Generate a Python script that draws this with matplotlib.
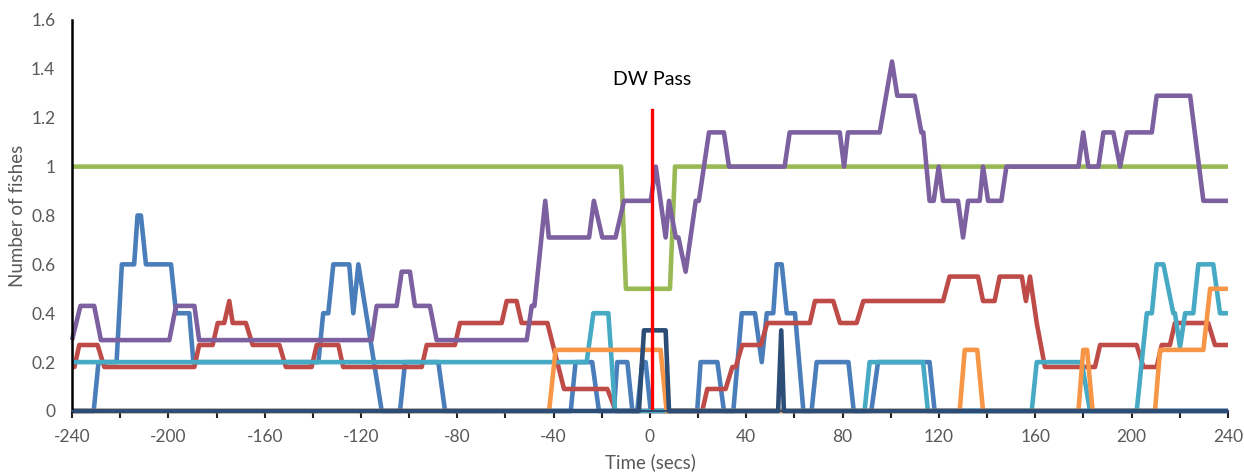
from matplotlib import pyplot as plt
from matplotlib.ticker import MultipleLocator, FuncFormatter

# (time in secs, number of fishes) break points
blue = [(-240, 0), (-231, 0), (-229, 0.2), (-221.5, 0.2), (-219.3, 0.6), (-214.2, 0.6),
        (-212.8, 0.8), (-211.4, 0.8), (-209.3, 0.6), (-198.9, 0.6), (-196.8, 0.4),
        (-191.3, 0.4), (-189.6, 0.2), (-137.7, 0.2), (-135.7, 0.4), (-133.6, 0.4),
        (-131.5, 0.6), (-124.9, 0.6), (-123.2, 0.4), (-121.1, 0.6), (-111.4, 0),
        (-103.8, 0), (-101.7, 0.2), (-87.9, 0.2), (-85.1, 0), (-32.9, 0), (-30.9, 0.2),
        (-24.0, 0.2), (-21.2, 0), (-15.0, 0), (-13.6, 0.2), (-9.4, 0.2), (-7.3, 0),
        (-5.3, 0), (-3.2, 0.2), (-1.8, 0.2), (0.3, 0), (19.6, 0), (21.0, 0.2), (28.0, 0.2),
        (30.7, 0), (34.6, 0), (38.1, 0.4), (43.6, 0.4), (46.4, 0.2), (48.5, 0.4),
        (51.2, 0.4), (52.6, 0.6), (54.7, 0.6), (56.8, 0.4), (60.2, 0.4), (63.7, 0),
        (67.1, 0), (69.2, 0.2), (82.4, 0.2), (84.6, 0), (91.9, 0), (94.7, 0.2),
        (116.1, 0.2), (118.2, 0), (240, 0)]

red = [(-240, 0.18), (-239, 0.18), (-237, 0.27), (-229.4, 0.27), (-226.6, 0.18),
       (-189.2, 0.18), (-187.2, 0.27), (-181.6, 0.27), (-179.5, 0.36), (-176.8, 0.36),
       (-174.7, 0.45), (-173.3, 0.36), (-167.8, 0.36), (-165, 0.27), (-153.9, 0.27),
       (-151.2, 0.18), (-140.5, 0.18), (-138.4, 0.27), (-129.4, 0.27), (-127.4, 0.18),
       (-94.8, 0.18), (-92.7, 0.27), (-81, 0.27), (-78.9, 0.36), (-61.6, 0.36),
       (-59.5, 0.45), (-55.4, 0.45), (-53.3, 0.36), (-42.6, 0.36), (-35.7, 0.09),
       (-17.7, 0.09), (-14.2, 0), (21.7, 0), (23.8, 0.09), (31.4, 0.09), (34.2, 0.18),
       (35.6, 0.18), (38.3, 0.27), (46, 0.27), (48.7, 0.36), (66.4, 0.36), (68.5, 0.45),
       (76.1, 0.45), (78.9, 0.36), (85.8, 0.36), (88.6, 0.45), (121.7, 0.45),
       (124.4, 0.55), (136.2, 0.55), (138.3, 0.45), (143.1, 0.45), (145.2, 0.55),
       (154.4, 0.55), (156.1, 0.45), (157.8, 0.55), (160.6, 0.36), (164, 0.18),
       (184.8, 0.18), (186.9, 0.27), (202.1, 0.27), (204.9, 0.18), (210.4, 0.18),
       (212.5, 0.27), (215.9, 0.27), (218, 0.36), (231.8, 0.36), (234.6, 0.27),
       (240, 0.27)]

green = [(-240, 1), (-12, 1), (-10, 0.5), (8.3, 0.5), (10.4, 1), (240, 1)]

purple = [(-240, 0.29), (-236.5, 0.43), (-230.8, 0.43), (-228, 0.29), (-199.6, 0.29),
          (-196.8, 0.43), (-189.2, 0.43), (-187.2, 0.29), (-115.6, 0.29), (-113.5, 0.43),
          (-105.2, 0.43), (-103.1, 0.57), (-99.7, 0.57), (-97.6, 0.43), (-91.4, 0.43),
          (-88.6, 0.29), (-51.2, 0.29), (-49.1, 0.43), (-48, 0.43), (-43.5, 0.86),
          (-42, 0.71), (-25.3, 0.71), (-23.3, 0.86), (-19.8, 0.71), (-14.3, 0.71),
          (-10.8, 0.86), (0.3, 0.86), (2.4, 1.0), (6.5, 0.71), (7.9, 0.86), (10.7, 0.71),
          (11.8, 0.71), (14.8, 0.57), (19, 0.86), (20.3, 0.86), (24.5, 1.14), (30.7, 1.14),
          (32.8, 1.0), (55.9, 1.0), (58, 1.14), (78.8, 1.14), (80.6, 1.0), (82.2, 1.14),
          (95.4, 1.14), (100.5, 1.43), (102.7, 1.29), (109.9, 1.29), (112.7, 1.14),
          (113.5, 1.14), (116.1, 0.86), (117.8, 0.86), (119.9, 1.0), (121.7, 0.86),
          (127.9, 0.86), (130, 0.71), (132.1, 0.86), (136.9, 0.86), (138.3, 1.0),
          (140.4, 0.86), (145.9, 0.86), (148, 1.0), (177.9, 1.0), (179.9, 1.14), (182, 1.0),
          (186.2, 1.0), (188.3, 1.14), (192.4, 1.14), (195.2, 1.0), (198, 1.14),
          (208.4, 1.14), (210.4, 1.29), (224.3, 1.29), (229.8, 0.86), (240, 0.86)]

cyan = [(-240, 0.2), (-26.3, 0.2), (-23.5, 0.4), (-17.3, 0.4), (-14.5, 0), (89.1, 0),
        (91.2, 0.2), (113.4, 0.2), (115.4, 0), (158.5, 0), (160.6, 0.2), (179.3, 0.2),
        (182.7, 0), (202.1, 0), (206.3, 0.4), (208.4, 0.4), (210.4, 0.6), (213.2, 0.6),
        (217.3, 0.4), (218, 0.4), (220.1, 0.26), (222.2, 0.4), (225.6, 0.4), (227.7, 0.6),
        (233.9, 0.6), (236.7, 0.4), (240, 0.4)]

orange = [(-240, 0), (-41.9, 0), (-39.2, 0.25), (4.4, 0.25), (6.9, 0), (128.6, 0),
          (130.7, 0.25), (135.9, 0.25), (138.3, 0), (177.9, 0), (179.9, 0.25),
          (181.5, 0.25), (183.8, 0), (209.7, 0), (211.8, 0.25), (229.8, 0.25),
          (232.6, 0.5), (240, 0.5)]

navy = [(-240, 0), (-4.6, 0), (-2.5, 0.33), (6.5, 0.33), (7.9, 0), (53.2, 0), (54.5, 0.33),
        (55.6, 0), (240, 0)]

pass_time = 1
pass_top = 1.23

series = [(blue, '#4A7EBB'), (red, '#BE4B48'), (green, '#98B954'), (purple, '#7D60A0'),
          (cyan, '#46AAC5'), (orange, '#F79646'), (navy, '#2C4D75')]

plt.rcParams['font.family'] = ['Lato', 'DejaVu Sans']
plt.rcParams['axes.unicode_minus'] = False

fig = plt.figure(figsize=(12.44, 4.76), dpi=100)
ax = fig.add_axes([0.0579, 0.1366, 0.9292, 0.8214])

for pts, col in series:
    t = [p[0] for p in pts]
    v = [p[1] for p in pts]
    ax.plot(t, v, color=col, linewidth=3.3, solid_joinstyle='round', solid_capstyle='butt',
            clip_on=False)

ax.plot([pass_time, pass_time], [0, pass_top], color='#FF0000', linewidth=2.4)
ax.text(pass_time, 1.355, 'DW Pass', ha='center', va='center', fontsize=14, color='black')

ax.set_xlim(-240, 240)
ax.set_ylim(0, 1.6)
ax.xaxis.set_major_locator(MultipleLocator(40))
ax.xaxis.set_minor_locator(MultipleLocator(20))
ax.yaxis.set_major_locator(MultipleLocator(0.2))
ax.xaxis.set_major_formatter(FuncFormatter(lambda x, p: '%d' % round(x)))
ax.yaxis.set_major_formatter(FuncFormatter(lambda y, p: '%g' % round(y, 1)))

ax.tick_params(axis='x', which='both', direction='out', length=5, width=1.5,
               color='#222222', labelsize=12.5, labelcolor='#595959', pad=8)
ax.tick_params(axis='y', length=0, labelsize=12.5, labelcolor='#595959', pad=12)

for s in ['top', 'right']:
    ax.spines[s].set_visible(False)
ax.spines['left'].set_color('black')
ax.spines['left'].set_linewidth(1.8)
ax.spines['bottom'].set_color('#2C4D75')
ax.spines['bottom'].set_linewidth(1.5)

ax.set_xlabel('Time (secs)', fontsize=13.5, color='#595959', labelpad=6)
ax.set_ylabel('Number of fishes', fontsize=13.5, color='#595959', labelpad=3.5)

plt.savefig('out.png', dpi=100)
